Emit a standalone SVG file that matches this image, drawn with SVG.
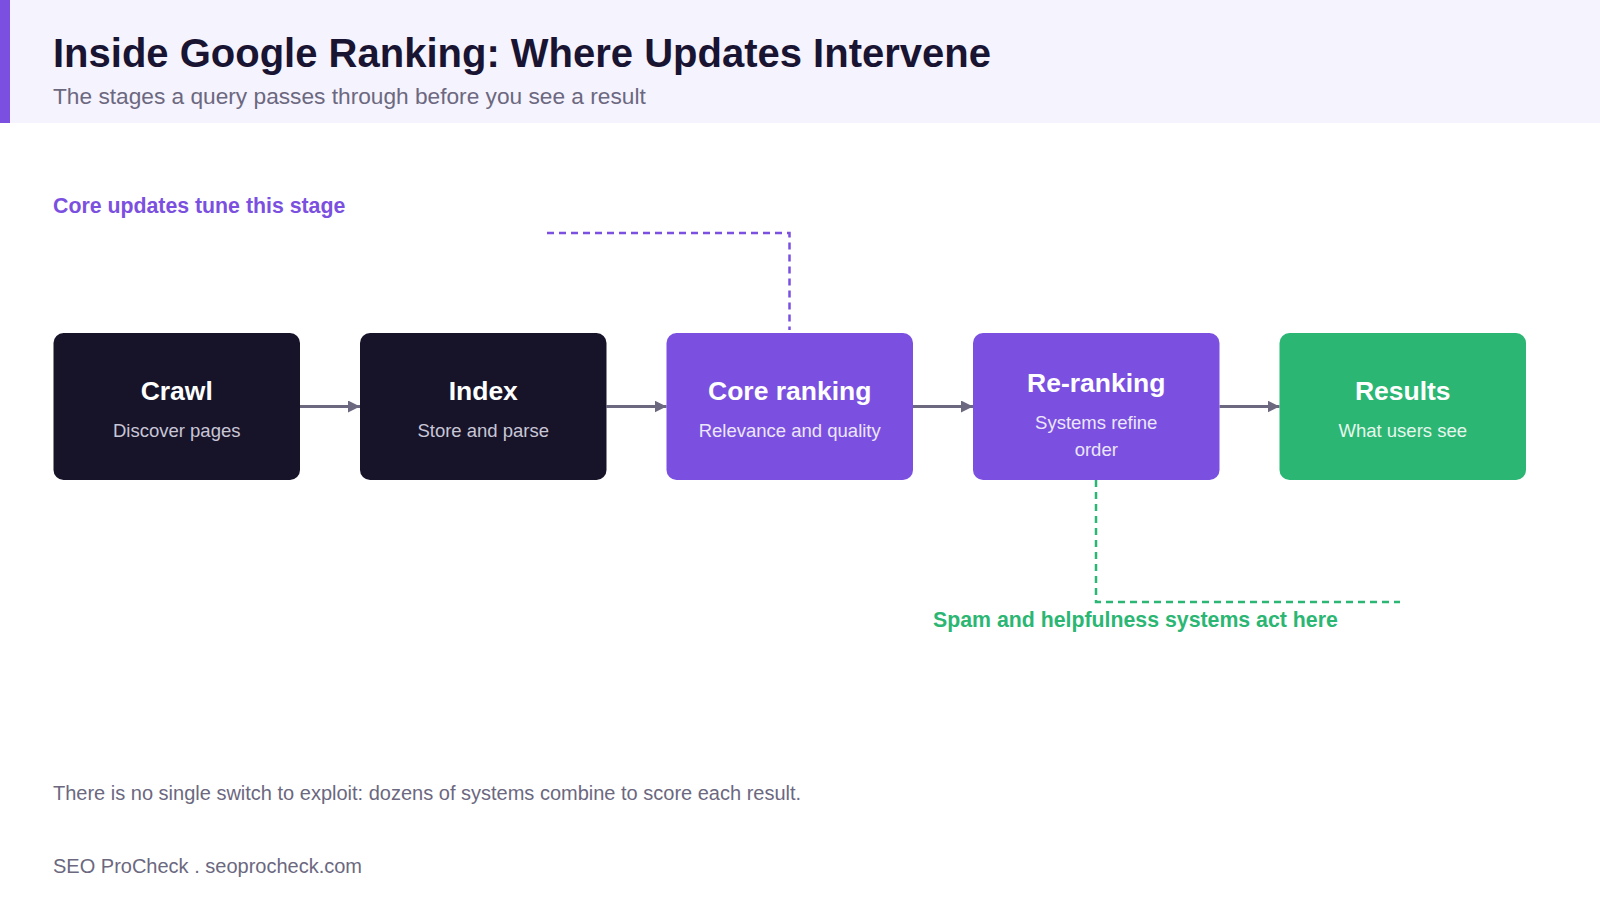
<svg xmlns="http://www.w3.org/2000/svg" width="1600" height="900" viewBox="0 0 1600 900">
<defs>
<marker id="arr" viewBox="0 0 10 10" refX="10" refY="5" markerWidth="4" markerHeight="4" orient="auto" markerUnits="strokeWidth"><path d="M0,0 L10,5 L0,10 z" fill="#6b6880"/></marker>
<style>
.ff{font-family:"Liberation Sans",Arial,sans-serif}
.nt{font-family:"Liberation Sans",Arial,sans-serif;font-size:26.5px;font-weight:bold;fill:#ffffff;text-anchor:middle}
.ns{font-family:"Liberation Sans",Arial,sans-serif;font-size:18.5px;text-anchor:middle}
.dark{fill:#17142a}
.purple{fill:#7b50e0}
.green{fill:#2bb673}
.flow{stroke:#6b6880;stroke-width:3;fill:none;marker-end:url(#arr)}
</style>
</defs>
<rect width="1600" height="900" fill="#ffffff"/>
<g id="header">
<rect x="0" y="0" width="1600" height="123" fill="#f5f3fd"/>
<rect x="0" y="0" width="10" height="123" fill="#7b50e0"/>
<text x="53" y="67" class="ff" font-size="40" font-weight="bold" fill="#1a1433">Inside Google Ranking: Where Updates Intervene</text>
<text x="53" y="104" class="ff" font-size="22.7" fill="#6b6880">The stages a query passes through before you see a result</text>
</g>
<g id="connectors">
<line x1="300" y1="406.5" x2="360" y2="406.5" class="flow"/>
<line x1="606.5" y1="406.5" x2="666.5" y2="406.5" class="flow"/>
<line x1="913" y1="406.5" x2="973" y2="406.5" class="flow"/>
<line x1="1219.5" y1="406.5" x2="1279.5" y2="406.5" class="flow"/>
<polyline points="547,233 789.5,233 789.5,330" fill="none" stroke="#7b50e0" stroke-width="2.5" stroke-dasharray="7 5"/>
<polyline points="1096,480 1096,602 1400,602" fill="none" stroke="#2bb673" stroke-width="2.5" stroke-dasharray="7 5"/>
</g>
<g id="node-crawl">
<rect x="53.5" y="333" width="246.5" height="147" rx="10" class="dark"/>
<text x="176.75" y="400" class="nt">Crawl</text>
<text x="176.75" y="437" class="ns" fill="#c9c6d6">Discover pages</text>
</g>
<g id="node-index">
<rect x="360" y="333" width="246.5" height="147" rx="10" class="dark"/>
<text x="483.25" y="400" class="nt">Index</text>
<text x="483.25" y="437" class="ns" fill="#c9c6d6">Store and parse</text>
</g>
<g id="node-core">
<rect x="666.5" y="333" width="246.5" height="147" rx="10" class="purple"/>
<text x="789.75" y="400" class="nt">Core ranking</text>
<text x="789.75" y="437" class="ns" fill="#ece6fb">Relevance and quality</text>
</g>
<g id="node-rerank">
<rect x="973" y="333" width="246.5" height="147" rx="10" class="purple"/>
<text x="1096.25" y="392" class="nt">Re-ranking</text>
<text x="1096.25" y="429" class="ns" fill="#ece6fb">Systems refine</text>
<text x="1096.25" y="456" class="ns" fill="#ece6fb">order</text>
</g>
<g id="node-results">
<rect x="1279.5" y="333" width="246.5" height="147" rx="10" class="green"/>
<text x="1402.75" y="400" class="nt">Results</text>
<text x="1402.75" y="437" class="ns" fill="#e6f7ee">What users see</text>
</g>
<g id="annotations">
<text x="53" y="213" class="ff" font-size="21.3" font-weight="bold" fill="#7b50e0">Core updates tune this stage</text>
<text x="933" y="627" class="ff" font-size="21.3" font-weight="bold" fill="#2bb673">Spam and helpfulness systems act here</text>
</g>
<g id="footer">
<text x="53" y="800" class="ff" font-size="20" fill="#6b6880">There is no single switch to exploit: dozens of systems combine to score each result.</text>
<text x="53" y="873" class="ff" font-size="20" fill="#6b6880">SEO ProCheck . seoprocheck.com</text>
</g>
</svg>
